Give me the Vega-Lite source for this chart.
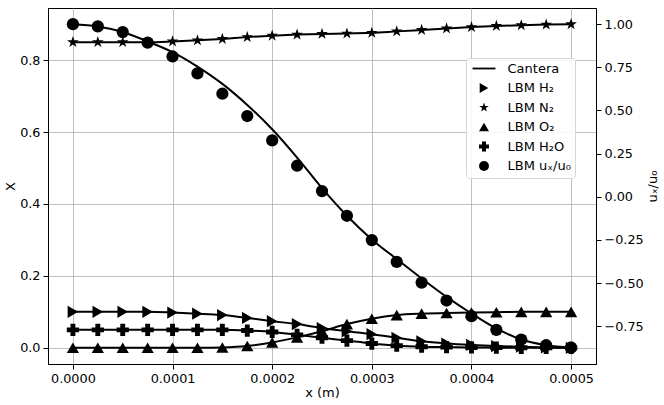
{
  "$schema": "https://vega.github.io/schema/vega-lite/v6.json",
  "width": 548,
  "height": 356,
  "autosize": {"type": "none"},
  "padding": {"left": 48, "top": 8, "right": 68, "bottom": 41},
  "config": {
    "font": "DejaVu Sans",
    "view": {"stroke": "black", "strokeWidth": 1},
    "axis": {
      "domainColor": "black",
      "domainWidth": 1,
      "tickColor": "black",
      "tickSize": 5,
      "tickWidth": 1,
      "labelColor": "black",
      "labelFont": "DejaVu Sans",
      "labelFontSize": 12.8,
      "labelPadding": 3,
      "titleColor": "black",
      "titleFont": "DejaVu Sans",
      "titleFontSize": 13,
      "titleFontWeight": "normal",
      "titleAlign": "center",
      "titleBaseline": "middle",
      "gridColor": "#b0b0b0",
      "gridWidth": 0.8
    },
    "legend": {
      "labelFont": "DejaVu Sans",
      "labelFontSize": 13,
      "labelColor": "black"
    }
  },
  "datasets": {
    "species": [
      {"x": 0, "series": "LBM H₂", "X": 0.1},
      {"x": 0.000025, "series": "LBM H₂", "X": 0.1},
      {"x": 0.00005, "series": "LBM H₂", "X": 0.1},
      {"x": 0.000075, "series": "LBM H₂", "X": 0.1},
      {"x": 0.0001, "series": "LBM H₂", "X": 0.098},
      {"x": 0.000125, "series": "LBM H₂", "X": 0.095},
      {"x": 0.00015, "series": "LBM H₂", "X": 0.091},
      {"x": 0.000175, "series": "LBM H₂", "X": 0.083},
      {"x": 0.0002, "series": "LBM H₂", "X": 0.074},
      {"x": 0.000225, "series": "LBM H₂", "X": 0.066},
      {"x": 0.00025, "series": "LBM H₂", "X": 0.055},
      {"x": 0.000275, "series": "LBM H₂", "X": 0.046},
      {"x": 0.0003, "series": "LBM H₂", "X": 0.038},
      {"x": 0.000325, "series": "LBM H₂", "X": 0.028},
      {"x": 0.00035, "series": "LBM H₂", "X": 0.018},
      {"x": 0.000375, "series": "LBM H₂", "X": 0.012},
      {"x": 0.0004, "series": "LBM H₂", "X": 0.008},
      {"x": 0.000425, "series": "LBM H₂", "X": 0.005},
      {"x": 0.00045, "series": "LBM H₂", "X": 0.003},
      {"x": 0.000475, "series": "LBM H₂", "X": 0.001},
      {"x": 0.0005, "series": "LBM H₂", "X": 0.0},
      {"x": 0, "series": "LBM N₂", "X": 0.85},
      {"x": 0.000025, "series": "LBM N₂", "X": 0.85},
      {"x": 0.00005, "series": "LBM N₂", "X": 0.85},
      {"x": 0.000075, "series": "LBM N₂", "X": 0.85},
      {"x": 0.0001, "series": "LBM N₂", "X": 0.852},
      {"x": 0.000125, "series": "LBM N₂", "X": 0.855},
      {"x": 0.00015, "series": "LBM N₂", "X": 0.859},
      {"x": 0.000175, "series": "LBM N₂", "X": 0.864},
      {"x": 0.0002, "series": "LBM N₂", "X": 0.868},
      {"x": 0.000225, "series": "LBM N₂", "X": 0.871},
      {"x": 0.00025, "series": "LBM N₂", "X": 0.873},
      {"x": 0.000275, "series": "LBM N₂", "X": 0.874},
      {"x": 0.0003, "series": "LBM N₂", "X": 0.876},
      {"x": 0.000325, "series": "LBM N₂", "X": 0.88},
      {"x": 0.00035, "series": "LBM N₂", "X": 0.884},
      {"x": 0.000375, "series": "LBM N₂", "X": 0.888},
      {"x": 0.0004, "series": "LBM N₂", "X": 0.892},
      {"x": 0.000425, "series": "LBM N₂", "X": 0.895},
      {"x": 0.00045, "series": "LBM N₂", "X": 0.897},
      {"x": 0.000475, "series": "LBM N₂", "X": 0.899},
      {"x": 0.0005, "series": "LBM N₂", "X": 0.9},
      {"x": 0, "series": "LBM O₂", "X": 0.0},
      {"x": 0.000025, "series": "LBM O₂", "X": 0.0},
      {"x": 0.00005, "series": "LBM O₂", "X": 0.0},
      {"x": 0.000075, "series": "LBM O₂", "X": 0.0},
      {"x": 0.0001, "series": "LBM O₂", "X": 0.0},
      {"x": 0.000125, "series": "LBM O₂", "X": 0.0},
      {"x": 0.00015, "series": "LBM O₂", "X": 0.001},
      {"x": 0.000175, "series": "LBM O₂", "X": 0.005},
      {"x": 0.0002, "series": "LBM O₂", "X": 0.015},
      {"x": 0.000225, "series": "LBM O₂", "X": 0.029},
      {"x": 0.00025, "series": "LBM O₂", "X": 0.046},
      {"x": 0.000275, "series": "LBM O₂", "X": 0.066},
      {"x": 0.0003, "series": "LBM O₂", "X": 0.081},
      {"x": 0.000325, "series": "LBM O₂", "X": 0.091},
      {"x": 0.00035, "series": "LBM O₂", "X": 0.095},
      {"x": 0.000375, "series": "LBM O₂", "X": 0.097},
      {"x": 0.0004, "series": "LBM O₂", "X": 0.098},
      {"x": 0.000425, "series": "LBM O₂", "X": 0.099},
      {"x": 0.00045, "series": "LBM O₂", "X": 0.1},
      {"x": 0.000475, "series": "LBM O₂", "X": 0.1},
      {"x": 0.0005, "series": "LBM O₂", "X": 0.1},
      {"x": 0, "series": "LBM H₂O", "X": 0.05},
      {"x": 0.000025, "series": "LBM H₂O", "X": 0.05},
      {"x": 0.00005, "series": "LBM H₂O", "X": 0.05},
      {"x": 0.000075, "series": "LBM H₂O", "X": 0.05},
      {"x": 0.0001, "series": "LBM H₂O", "X": 0.05},
      {"x": 0.000125, "series": "LBM H₂O", "X": 0.05},
      {"x": 0.00015, "series": "LBM H₂O", "X": 0.05},
      {"x": 0.000175, "series": "LBM H₂O", "X": 0.048},
      {"x": 0.0002, "series": "LBM H₂O", "X": 0.044},
      {"x": 0.000225, "series": "LBM H₂O", "X": 0.036},
      {"x": 0.00025, "series": "LBM H₂O", "X": 0.028},
      {"x": 0.000275, "series": "LBM H₂O", "X": 0.02},
      {"x": 0.0003, "series": "LBM H₂O", "X": 0.012},
      {"x": 0.000325, "series": "LBM H₂O", "X": 0.006},
      {"x": 0.00035, "series": "LBM H₂O", "X": 0.003},
      {"x": 0.000375, "series": "LBM H₂O", "X": 0.002},
      {"x": 0.0004, "series": "LBM H₂O", "X": 0.001},
      {"x": 0.000425, "series": "LBM H₂O", "X": 0.0005},
      {"x": 0.00045, "series": "LBM H₂O", "X": 0.0},
      {"x": 0.000475, "series": "LBM H₂O", "X": 0.0},
      {"x": 0.0005, "series": "LBM H₂O", "X": 0.0}
    ],
    "velocity": [
      {"x": 0, "series": "LBM uₓ/u₀", "lbm": 1.0, "cantera": 1.0},
      {"x": 0.000025, "series": "LBM uₓ/u₀", "lbm": 0.987, "cantera": 0.987},
      {"x": 0.00005, "series": "LBM uₓ/u₀", "lbm": 0.954, "cantera": 0.955},
      {"x": 0.000075, "series": "LBM uₓ/u₀", "lbm": 0.893, "cantera": 0.9},
      {"x": 0.0001, "series": "LBM uₓ/u₀", "lbm": 0.813, "cantera": 0.838},
      {"x": 0.000125, "series": "LBM uₓ/u₀", "lbm": 0.715, "cantera": 0.754},
      {"x": 0.00015, "series": "LBM uₓ/u₀", "lbm": 0.597, "cantera": 0.654},
      {"x": 0.000175, "series": "LBM uₓ/u₀", "lbm": 0.468, "cantera": 0.532},
      {"x": 0.0002, "series": "LBM uₓ/u₀", "lbm": 0.327, "cantera": 0.391},
      {"x": 0.000225, "series": "LBM uₓ/u₀", "lbm": 0.18, "cantera": 0.227},
      {"x": 0.00025, "series": "LBM uₓ/u₀", "lbm": 0.033, "cantera": 0.05},
      {"x": 0.000275, "series": "LBM uₓ/u₀", "lbm": -0.11, "cantera": -0.11},
      {"x": 0.0003, "series": "LBM uₓ/u₀", "lbm": -0.251, "cantera": -0.247},
      {"x": 0.000325, "series": "LBM uₓ/u₀", "lbm": -0.377, "cantera": -0.361},
      {"x": 0.00035, "series": "LBM uₓ/u₀", "lbm": -0.497, "cantera": -0.473},
      {"x": 0.000375, "series": "LBM uₓ/u₀", "lbm": -0.601, "cantera": -0.58},
      {"x": 0.0004, "series": "LBM uₓ/u₀", "lbm": -0.692, "cantera": -0.676},
      {"x": 0.000425, "series": "LBM uₓ/u₀", "lbm": -0.771, "cantera": -0.763},
      {"x": 0.00045, "series": "LBM uₓ/u₀", "lbm": -0.827, "cantera": -0.827},
      {"x": 0.000475, "series": "LBM uₓ/u₀", "lbm": -0.86, "cantera": -0.86},
      {"x": 0.0005, "series": "LBM uₓ/u₀", "lbm": -0.874, "cantera": -0.874}
    ]
  },
  "encoding": {
    "x": {
      "field": "x",
      "type": "quantitative",
      "scale": {"domain": [-0.000025, 0.000525], "nice": false, "zero": false},
      "axis": {
        "title": "x (m)",
        "values": [0, 0.0001, 0.0002, 0.0003, 0.0004, 0.0005],
        "format": ".4f",
        "grid": true,
        "titleX": 274,
        "titleY": 28
      }
    }
  },
  "layer": [
    {
      "data": {"name": "species"},
      "encoding": {
        "y": {
          "field": "X",
          "type": "quantitative",
          "scale": {"domain": [-0.045, 0.945], "nice": false, "zero": false},
          "axis": {
            "title": "X",
            "values": [0, 0.2, 0.4, 0.6, 0.8],
            "format": ".1f",
            "grid": true,
            "titleAngle": -90,
            "titleX": -38,
            "titleY": 178
          }
        }
      },
      "layer": [
        {
          "mark": {"type": "line", "color": "black", "strokeWidth": 2, "interpolate": "monotone"},
          "encoding": {"detail": {"field": "series"}}
        },
        {
          "mark": {"type": "point", "filled": true, "color": "black", "opacity": 1, "size": 150},
          "encoding": {
            "shape": {
              "field": "series",
              "type": "nominal",
              "scale": {
                "domain": ["Cantera", "LBM H₂", "LBM N₂", "LBM O₂", "LBM H₂O", "LBM uₓ/u₀"],
                "range": ["M-2.29,-0.18H2.29V0.18H-2.29Z", "triangle-right", "M0,-1L0.2245,-0.309L0.951,-0.309L0.363,0.118L0.588,0.809L0,0.382L-0.588,0.809L-0.363,0.118L-0.951,-0.309L-0.2245,-0.309Z", "triangle-up", "cross", "circle"]
              },
              "legend": {
                "orient": "none",
                "legendX": 418,
                "legendY": 50,
                "title": null,
                "padding": 4,
                "strokeColor": "#d5d5d5",
                "fillColor": "rgba(255,255,255,0.85)",
                "cornerRadius": 3,
                "gridAlign": "all",
                "symbolOffset": 7.5,
                "labelOffset": 17,
                "rowPadding": 2.5
              }
            }
          }
        }
      ]
    },
    {
      "data": {"name": "velocity"},
      "layer": [
        {
          "mark": {"type": "line", "color": "black", "strokeWidth": 2, "interpolate": "monotone"},
          "encoding": {
            "y": {
              "field": "cantera",
              "type": "quantitative",
              "scale": {"domain": [-0.96875, 1.09375], "nice": false, "zero": false},
              "axis": {
                "orient": "right",
                "title": "uₓ/u₀",
                "values": [-0.75, -0.5, -0.25, 0, 0.25, 0.5, 0.75, 1],
                "format": ".2f",
                "grid": false,
                "titleAngle": -90,
                "titleX": 56,
                "titleY": 178
              }
            }
          }
        },
        {
          "mark": {"type": "point", "filled": true, "color": "black", "opacity": 1, "size": 150},
          "encoding": {
            "y": {"field": "lbm", "type": "quantitative"},
            "shape": {
              "field": "series",
              "type": "nominal",
              "legend": {
                "orient": "none",
                "legendX": 418,
                "legendY": 50,
                "title": null,
                "padding": 4,
                "strokeColor": "#d5d5d5",
                "fillColor": "rgba(255,255,255,0.85)",
                "cornerRadius": 3,
                "gridAlign": "all",
                "symbolOffset": 7.5,
                "labelOffset": 17,
                "rowPadding": 2.5
              }
            }
          }
        }
      ]
    }
  ],
  "resolve": {"scale": {"y": "independent"}}
}
